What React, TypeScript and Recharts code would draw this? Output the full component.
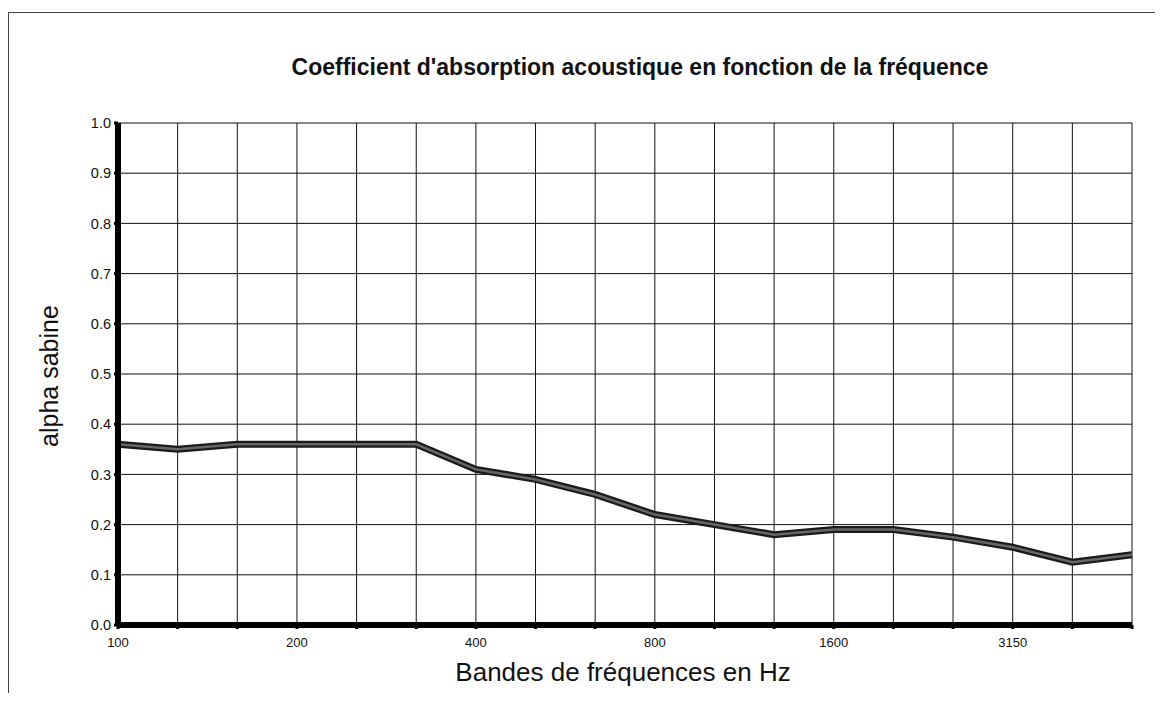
import { LineChart, Line, XAxis, YAxis, CartesianGrid } from "recharts"

// bandes de tiers d'octave
const bands = [
  "100", "125", "160", "200", "250", "315", "400", "500", "630",
  "800", "1000", "1250", "1600", "2000", "2500", "3150", "4000", "5000",
]
const alphaSabine = [
  0.36, 0.35, 0.36, 0.36, 0.36, 0.36, 0.31, 0.29, 0.26,
  0.22, 0.2, 0.18, 0.19, 0.19, 0.175, 0.155, 0.125, 0.14,
]
const shownBands = ["100", "200", "400", "800", "1600", "3150"]
const yTicks = [0, 0.1, 0.2, 0.3, 0.4, 0.5, 0.6, 0.7, 0.8, 0.9, 1.0]

const font = '"Liberation Sans", Arial, sans-serif'

const chartData = bands.map((band, i) => ({ band, alpha: alphaSabine[i] }))

const BandTick = ({ x, y, payload }: any) => {
  if (!shownBands.includes(payload.value)) return <g />
  return (
    <text x={x} y={y + 16} textAnchor="middle" fontSize={13} fontFamily={font} fill="#111">
      {payload.value}
    </text>
  )
}

export default function App() {
  return (
    <div
      style={{
        position: "relative",
        marginTop: 4,
        width: 1152,
        height: 680,
        borderTop: "1px solid #444",
        borderLeft: "1px solid #444",
        borderRight: "1px solid #888",
        fontFamily: font,
        background: "#fff",
      }}
    >
      <div
        style={{
          position: "absolute",
          left: 231,
          width: 800,
          top: 42,
          textAlign: "center",
          fontSize: 23,
          lineHeight: "24px",
          fontWeight: "bold",
          color: "#111",
        }}
      >
        Coefficient d'absorption acoustique en fonction de la fréquence
      </div>

      <LineChart
        width={1150}
        height={680}
        data={chartData}
        margin={{ top: 110, right: 27, left: 0, bottom: 28 }}
      >
        <CartesianGrid stroke="#111" strokeWidth={1} />
        <XAxis
          dataKey="band"
          interval={0}
          height={40}
          axisLine={{ stroke: "#000", strokeWidth: 6 }}
          tickLine={{ stroke: "#000", strokeWidth: 3 }}
          tickSize={4}
          tick={<BandTick />}
        />
        <YAxis
          domain={[0, 1]}
          ticks={yTicks}
          width={109}
          axisLine={{ stroke: "#000", strokeWidth: 6 }}
          tickLine={{ stroke: "#000", strokeWidth: 3 }}
          tickSize={4}
          tickMargin={3}
          tickFormatter={(v: number) => v.toFixed(1)}
          tick={{ fill: "#111", fontSize: 14.5, fontFamily: font }}
        />
        <Line
          dataKey="alpha"
          type="linear"
          stroke="#1a1a1a"
          strokeWidth={7}
          dot={false}
          isAnimationActive={false}
        />
        <Line
          dataKey="alpha"
          type="linear"
          stroke="#666"
          strokeWidth={2.5}
          dot={false}
          isAnimationActive={false}
        />
      </LineChart>

      <div
        style={{
          position: "absolute",
          left: -60,
          top: 350,
          width: 200,
          height: 26,
          lineHeight: "26px",
          textAlign: "center",
          fontSize: 25,
          color: "#111",
          transform: "rotate(-90deg)",
        }}
      >
        alpha sabine
      </div>

      <div
        style={{
          position: "absolute",
          left: 314,
          width: 600,
          top: 646,
          textAlign: "center",
          fontSize: 26,
          lineHeight: "26px",
          color: "#111",
        }}
      >
        Bandes de fréquences en Hz
      </div>
    </div>
  )
}
